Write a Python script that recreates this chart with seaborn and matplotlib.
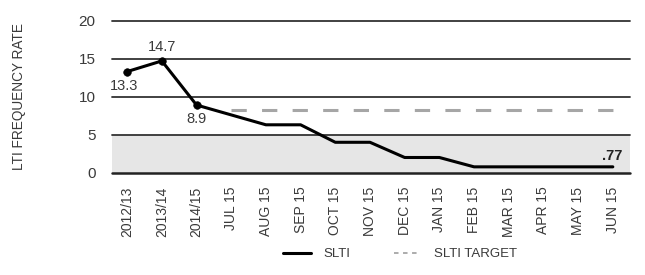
import pandas as pd
import numpy as np
import matplotlib
matplotlib.use('Agg')
import matplotlib.pyplot as plt
from matplotlib.lines import Line2D
import seaborn as sns

# Data
periods = ['2012/13', '2013/14', '2014/15', 'JUL 15', 'AUG 15', 'SEP 15', 'OCT 15',
           'NOV 15', 'DEC 15', 'JAN 15', 'FEB 15', 'MAR 15', 'APR 15', 'MAY 15', 'JUN 15']
slti = [13.3, 14.7, 8.9, 7.6, 6.3, 6.3, 4.0, 4.0, 2.0, 2.0, 0.77, 0.77, 0.77, 0.77, 0.77]
slti_target = [np.nan, np.nan, np.nan, 8.2, 8.2, 8.2, 8.2, 8.2, 8.2, 8.2, 8.2, 8.2, 8.2, 8.2, 8.2]
y_ticks = [0, 5, 10, 15, 20]

df = pd.DataFrame({'period': periods, 'slti': slti, 'target': slti_target})
df['pos'] = range(len(df))

sns.set_style('white')
plt.rcParams['font.family'] = ['Liberation Sans', 'DejaVu Sans']
text_color = '#3a3a3a'

fig = plt.figure(figsize=(6.45, 2.75), dpi=100)
ax = fig.add_axes([0.174, 0.372, 0.803, 0.553])

# shaded band and horizontal rules
ax.axhspan(0, 5, color='#e6e6e6', zorder=0, lw=0)
for t in y_ticks:
    ax.axhline(t, color='#222222' if t == 0 else '#333333', lw=1.8 if t == 0 else 1.3,
               zorder=1, clip_on=False)

# target (dashed) and actual lines
sns.lineplot(data=df.dropna(subset=['target']), x='pos', y='target', ax=ax,
             color='#a6a6a6', lw=2.2, dashes=False, zorder=2)
ax.lines[-1].set_dashes((5, 5))
sns.lineplot(data=df, x='pos', y='slti', ax=ax, color='black', lw=2.2, zorder=3)
sns.scatterplot(data=df.iloc[:3], x='pos', y='slti', ax=ax, color='black', s=30,
                edgecolor='black', zorder=4)

# value labels
ax.annotate(f"{slti[0]:.1f}", (0, slti[0]), xytext=(-2, -5), textcoords='offset points',
            ha='center', va='top', fontsize=10.5, color=text_color)
ax.annotate(f"{slti[1]:.1f}", (1, slti[1]), xytext=(0, 5), textcoords='offset points',
            ha='center', va='bottom', fontsize=10.5, color=text_color)
ax.annotate(f"{slti[2]:.1f}", (2, slti[2]), xytext=(0, -5), textcoords='offset points',
            ha='center', va='top', fontsize=10.5, color=text_color)
ax.annotate(f"{slti[-1]:.2f}".lstrip('0'), (len(slti) - 1, slti[-1]), xytext=(7, 2.5),
            textcoords='offset points', ha='right', va='bottom', fontsize=10.5,
            fontweight='bold', color='#222222')

ax.set_xlim(-0.43, 14.5)
ax.set_ylim(0, 20)
ax.set_xticks(df['pos'])
ax.set_xticklabels(periods, rotation=90, fontsize=10, color=text_color)
ax.set_yticks(y_ticks)
ax.set_yticklabels([str(t) for t in y_ticks], fontsize=11, color=text_color)
ax.tick_params(axis='both', length=0)
ax.tick_params(axis='x', pad=10)
ax.tick_params(axis='y', pad=12)
ax.set_xlabel('')
ax.set_ylabel('LTI FREQUENCY RATE', fontsize=9.8, color=text_color, labelpad=38)
sns.despine(ax=ax, left=True, bottom=True)

handles = [Line2D([], [], color='black', lw=2.2),
           Line2D([], [], color='#a6a6a6', lw=1.3, dashes=(2.5, 2.5))]
fig.legend(handles, ['SLTI', 'SLTI TARGET'], loc='center', bbox_to_anchor=(0.62, 0.075),
           ncol=2, frameon=False, fontsize=9.5, handlelength=2.1, columnspacing=3.3,
           handletextpad=0.95, labelcolor=text_color)

fig.savefig('out.png', dpi=100)
